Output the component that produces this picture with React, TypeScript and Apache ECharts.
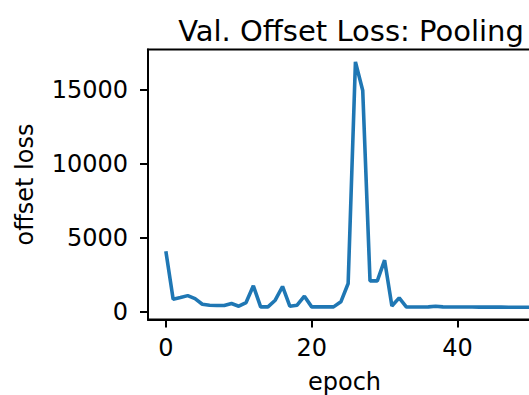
import React, { useEffect, useRef } from "react";
import * as echarts from "echarts";

const epochs: number[] = Array.from({ length: 51 }, (_, i) => i);
const offsetLoss: number[] = [
  4100, 860, 970, 1100, 900, 520, 450, 430, 430, 565,
  385, 630, 1765, 340, 340, 790, 1720, 385, 450, 1060,
  340, 340, 340, 340, 680, 1920, 16920, 14980, 2100, 2100,
  3500, 400, 950, 330, 330, 330, 340, 380, 340, 330,
  330, 335, 330, 325, 325, 320, 320, 318, 316, 315,
  315,
];
const xTicks: number[] = [0, 20, 40];
const yTicks: number[] = [0, 5000, 10000, 15000];

const FONT = "DejaVu Sans";

export default function App() {
  const ref = useRef<HTMLDivElement>(null);
  useEffect(() => {
    if (!ref.current) return;
    const chart = echarts.init(ref.current, undefined, { renderer: "svg" });
    chart.setOption({
      animation: false,
      backgroundColor: "#ffffff",
      title: {
        text: "Val. Offset Loss: Pooling",
        left: 346,
        top: 11,
        textAlign: "center",
        textStyle: { fontFamily: FONT, fontSize: 29, fontWeight: "normal", color: "#000" },
      },
      grid: {
        left: 148,
        top: 49.5,
        width: 393,
        height: 270,
        outerBoundsMode: "none",
        containLabel: false,
        show: true,
        borderColor: "#000",
        borderWidth: 2,
        backgroundColor: "transparent",
      },
      xAxis: {
        type: "value",
        min: -2.45,
        max: 51.45,
        splitLine: { show: false },
        axisLine: { show: true, onZero: false, lineStyle: { color: "#000", width: 2 } },
        axisTick: { show: true, length: 8, lineStyle: { color: "#000", width: 2 }, customValues: xTicks },
        axisLabel: {
          customValues: xTicks,
          formatter: (v: number) => String(v),
          fontFamily: FONT,
          fontSize: 24,
          color: "#000",
          margin: 16,
        },
        name: "epoch",
        nameLocation: "middle",
        nameGap: 50,
        nameTextStyle: { fontFamily: FONT, fontSize: 24, color: "#000" },
      },
      yAxis: {
        type: "value",
        min: -515,
        max: 17754,
        splitLine: { show: false },
        axisLine: { show: true, onZero: false, lineStyle: { color: "#000", width: 2 } },
        axisTick: { show: true, length: 8, lineStyle: { color: "#000", width: 2 }, customValues: yTicks },
        axisLabel: {
          customValues: yTicks,
          formatter: (v: number) => String(v),
          fontFamily: FONT,
          fontSize: 24,
          color: "#000",
          margin: 20,
        },
        name: "offset loss",
        nameLocation: "middle",
        nameGap: 111,
        nameTextStyle: { fontFamily: FONT, fontSize: 24, color: "#000" },
      },
      series: [
        {
          type: "line",
          data: epochs.map((e, i) => [e, offsetLoss[i]]),
          showSymbol: false,
          lineStyle: { color: "#1f77b4", width: 3.6 },
          itemStyle: { color: "#1f77b4" },
        },
      ],
    });
    return () => chart.dispose();
  }, []);
  return (
    <div
      ref={ref}
      style={{ position: "fixed", left: 0, top: 0, width: 529, height: 395 }}
    />
  );
}
